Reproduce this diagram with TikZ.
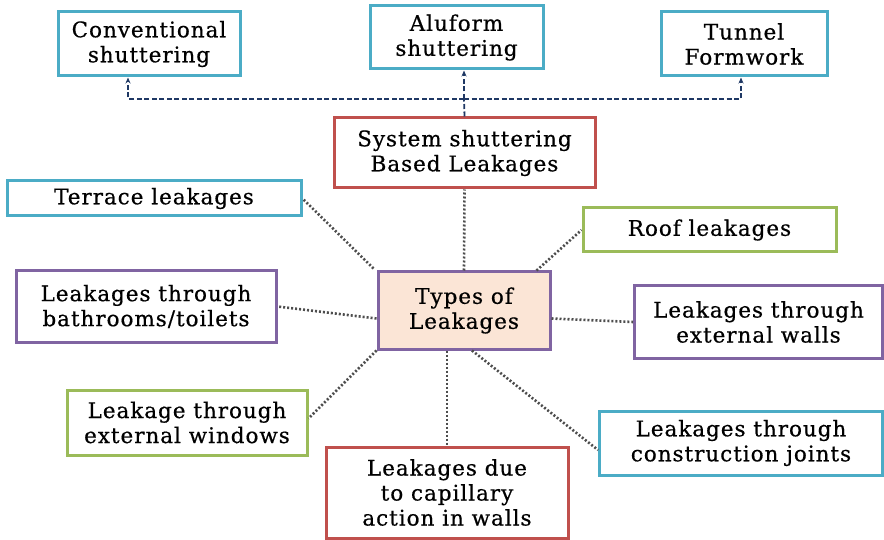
\documentclass[tikz,border=0pt]{standalone}
\usepackage{fontspec}
\setmainfont{DejaVu Serif}[LetterSpace=4.5, FakeBold=0.6]
\usetikzlibrary{arrows.meta}

\definecolor{boxcyan}{HTML}{4BACC6}
\definecolor{boxred}{HTML}{C0504D}
\definecolor{boxgreen}{HTML}{9BBB59}
\definecolor{boxpurple}{HTML}{8064A2}
\definecolor{linknavy}{HTML}{1F3864}
\definecolor{dotgray}{HTML}{4D4D4D}
\definecolor{peach}{HTML}{FBE5D6}

\begin{document}
\begin{tikzpicture}[x=1pt, y=-1pt,
    leak/.style={rectangle, draw, line width=3pt, fill=white, align=center, inner sep=0pt,
        font=\fontsize{21.5}{25}\selectfont},
    dots/.style={draw=dotgray, line width=2.6pt, dash pattern=on 2pt off 2pt},
    dashline/.style={draw=linknavy, line width=1.8pt, dash pattern=on 5pt off 2.5pt, -{Stealth[length=6pt,width=5pt]}}]

    \useasboundingbox (0,0) rectangle (884,540);

    % Shuttering systems
    \node[leak, draw=boxcyan, minimum width=182pt, minimum height=64pt] (conv) at (149,44) {Conventional\\shuttering};
    \node[leak, draw=boxcyan, minimum width=173pt, minimum height=63pt] (alu) at (456.5,37.5) {Aluform\\shuttering};
    \node[leak, draw=boxcyan, minimum width=166pt, minimum height=64pt] (tunnel) at (744,44) {Tunnel\\Formwork};

    % Types of leakages around the centre
    \node[leak, draw=boxred, minimum width=261pt, minimum height=70pt] (sys) at (464.5,153) {System shuttering\\Based Leakages};
    \node[leak, draw=boxpurple, fill=peach, minimum width=172pt, minimum height=77pt] (types) at (464,310.5) {Types of\\Leakages};
    \node[leak, draw=boxcyan, minimum width=294pt, minimum height=35pt] (terrace) at (154,198.5) {Terrace leakages};
    \node[leak, draw=boxgreen, minimum width=253pt, minimum height=44pt] (roof) at (709.5,230) {Roof leakages};
    \node[leak, draw=boxpurple, minimum width=260pt, minimum height=71pt] (bath) at (146,306.5) {Leakages through\\bathrooms/toilets};
    \node[leak, draw=boxpurple, minimum width=248pt, minimum height=72pt] (walls) at (758.5,322) {Leakages through\\external walls};
    \node[leak, draw=boxgreen, minimum width=240pt, minimum height=65pt] (windows) at (187,422.5) {Leakage through\\external windows};
    \node[leak, draw=boxred, minimum width=242pt, minimum height=91pt] (capillary) at (447,492.5) {Leakages due\\to capillary\\action in walls};
    \node[leak, draw=boxcyan, minimum width=283pt, minimum height=64pt] (joints) at (741,443) {Leakages through\\construction joints};

    % Dashed links to the shuttering systems
    \coordinate (jn) at (464,99);
    \draw[dashline, -] (sys.north) -- (jn);
    \draw[dashline] (jn) -- (jn |- alu.south);
    \draw[dashline] (jn) -| ([xshift=-21pt]conv.south);
    \draw[dashline] (jn) -| ([xshift=-3pt]tunnel.south);

    % Dotted links from the centre
    \draw[dots] (types.north) -- (sys.south);
    \draw[dots] ([xshift=-3pt,yshift=2pt]types.north west) -- (terrace.east);
    \draw[dots] ([xshift=-15pt]types.north east) -- (roof.west);
    \draw[dots] ([yshift=-8pt]types.west) -- (bath.east);
    \draw[dots] ([yshift=-8pt]types.east) -- (walls.west);
    \draw[dots] (types.south west) -- ([yshift=4pt]windows.east);
    \draw[dots] (types.south -| capillary.north) -- (capillary.north);
    \draw[dots] ([xshift=8pt]types.south) -- ([yshift=-7pt]joints.west);
\end{tikzpicture}
\end{document}
